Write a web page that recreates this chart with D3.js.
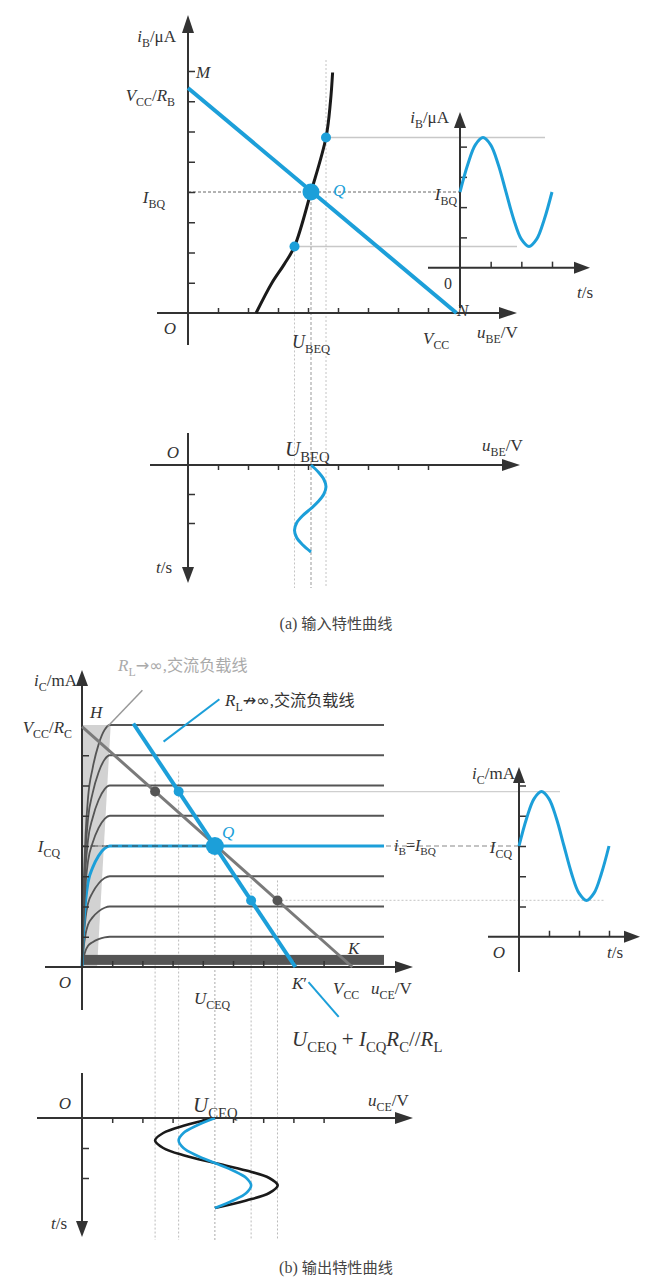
<!DOCTYPE html>
<html>
<head>
<meta charset="utf-8">
<script src="https://cdn.jsdelivr.net/npm/d3@7"></script>
<style>
html,body{margin:0;background:#fff}
text{font-family:"Liberation Serif","Times New Roman",serif}
</style>
</head>
<body>
<svg id="fig" width="651" height="1277"></svg>
<script>
// ---------- data (grid units of each diagram) ----------
// (a) input characteristic i_B = f(u_BE)
const inputU = [2.27, 2.8, 3.2, 3.55, 4.1, 4.6, 4.75, 4.82];
const inputI = [0, 1, 1.6, 2.2, 4, 5.8, 7, 7.95];
const inVcc = 8.95;      // N : load line meets the u_BE axis
const inVccRb = 7.44;    // V_CC/R_B : load line meets the i_B axis
const inTicksX = [1, 2, 3, 4, 5, 6, 7, 8];
const inTicksY = [1, 2, 3, 4, 5, 6, 7, 8];
const UBEQ = 4.1, IBQ = 4.0;

// one period of the input signal
const tSamples = [0, 0.25, 0.5, 0.75, 1, 1.25, 1.5, 1.75, 2, 2.25, 2.5, 2.75, 3];
const ibWave  = [4.0, 4.9, 5.56, 5.8, 5.56, 4.9, 4.0, 3.1, 2.44, 2.2, 2.44, 3.1, 4.0];
const ubeWave = [4.1, 4.35, 4.53, 4.6, 4.53, 4.35, 4.1, 3.82, 3.62, 3.55, 3.62, 3.82, 4.1];

// (b) output characteristic i_C = f(u_CE)
const icLevels = [1, 2, 3, 4, 5, 6, 7, 8];            // flat level of each curve
const kneeU    = [0, 0.05, 0.12, 0.2, 0.35, 0.55, 0.75, 0.92, 10];
const kneeFrac = [0, 0.3, 0.55, 0.7, 0.82, 0.92, 0.98, 1, 1];
const outVcc = 8.95, outVccRc = 7.95;
const UCEQ = 4.4, ICQ = 4.0;
const acSlope = 1.5;                                   // |di_C/du_CE| of the AC load line
const outTicksX = [1, 2, 3, 4, 5, 6, 7, 8];
const outTicksY = [1, 2, 3, 4, 5, 6, 7];
const icWave    = [4.0, 4.9, 5.56, 5.8, 5.56, 4.9, 4.0, 3.1, 2.44, 2.2, 2.44, 3.1, 4.0];
const uceWaveAC = [4.4, 3.8, 3.36, 3.2, 3.36, 3.8, 4.4, 5.0, 5.44, 5.6, 5.44, 5.0, 4.4];
const uceWaveDC = [4.4, 3.39, 2.69, 2.42, 2.69, 3.39, 4.4, 5.44, 6.2, 6.48, 6.2, 5.44, 4.4];

// ---------- style ----------
const BLUE = "#1c9fd9", INK = "#333";
const SERIF = '"Liberation Serif","Times New Roman",serif';
const CJK = '"Noto Sans CJK SC","Noto Sans",sans-serif';
const SYM = '"DejaVu Sans",sans-serif';

const svg = d3.select("#fig");
svg.append("rect").attr("width", 651).attr("height", 1277).attr("fill", "#fff");

// ---------- scales ----------
const xA  = d3.scaleLinear().domain([0, 9]).range([188, 458]);
const yA  = d3.scaleLinear().domain([0, 8]).range([313, 71]);
const tA  = d3.scaleLinear().domain([0, 3]).range([460, 552]);   // i_B(t) time axis
const tA2 = d3.scaleLinear().domain([0, 3]).range([465, 552]);   // u_BE(t) time axis (downward)
const xB  = d3.scaleLinear().domain([0, 10]).range([82, 384]);
const yB  = d3.scaleLinear().domain([0, 8]).range([967, 725]);
const tB  = d3.scaleLinear().domain([0, 3]).range([519, 609]);   // i_C(t) time axis
const tB2 = d3.scaleLinear().domain([0, 3]).range([1118, 1208]); // u_CE(t) time axis (downward)

// ---------- helpers ----------
function line(g, x1, y1, x2, y2, stroke, w, dash) {
  const l = g.append("line").attr("x1", x1).attr("y1", y1).attr("x2", x2).attr("y2", y2)
    .attr("stroke", stroke).attr("stroke-width", w);
  if (dash) l.attr("stroke-dasharray", dash);
  return l;
}
function arrowHead(g, x, y, dir, len = 16, hw = 6) {
  let pts;
  if (dir === "up")    pts = [[x, y], [x - hw, y + len], [x + hw, y + len]];
  if (dir === "down")  pts = [[x, y], [x - hw, y - len], [x + hw, y - len]];
  if (dir === "right") pts = [[x, y], [x - len, y - hw], [x - len, y + hw]];
  g.append("path").attr("d", "M" + pts.map(p => p.join(",")).join("L") + "Z").attr("fill", INK);
}
// axis arrow: line from (x1,y1) to tip (x2,y2)
function axisArrow(g, x1, y1, x2, y2, dir, len = 16, hw = 6) {
  const dx = dir === "right" ? -len + 2 : 0, dy = dir === "up" ? len - 2 : dir === "down" ? -len + 2 : 0;
  line(g, x1, y1, x2 + dx, y2 + dy, INK, 2);
  arrowHead(g, x2, y2, dir, len, hw);
}
function ticks(g, axisGen, transform) {
  const a = g.append("g").attr("transform", transform).call(axisGen.tickFormat(""));
  a.select(".domain").remove();
  a.selectAll(".tick line").attr("stroke", INK).attr("stroke-width", 1.5);
}
// rich text: parts = [[text, flags]]  flags: i italic, s subscript, c CJK, y symbol font
function rich(g, x, y, parts, o = {}) {
  const size = o.size || 17;
  const t = g.append("text").attr("x", x).attr("y", y)
    .attr("text-anchor", o.anchor || "start")
    .style("font-family", SERIF).attr("font-size", size).attr("fill", o.fill || INK);
  let shift = 0;
  parts.forEach(([str, f = ""]) => {
    const sub = f.includes("s");
    const target = sub ? size * 0.28 : 0;
    const ts = t.append("tspan").text(str).attr("font-size", sub ? size * 0.7 : size);
    if (target !== shift) { ts.attr("dy", target - shift); shift = target; }
    if (f.includes("i")) ts.style("font-style", "italic");
    if (f.includes("c")) ts.style("font-family", CJK).attr("font-size", size * 0.95);
    if (f.includes("y")) ts.style("font-family", SYM).attr("font-size", size * 0.95);
  });
  return t;
}
const zip = (a, b) => a.map((v, i) => [v, b[i]]);

// =====================================================================
// (a) input characteristic
// =====================================================================
const gA = svg.append("g");

// guide lines
const ibMax = d3.max(ibWave), ibMin = d3.min(ibWave);
const ubeMax = d3.max(ubeWave), ubeMin = d3.min(ubeWave);
line(gA, xA(ubeMax), yA(ibMax), 545, yA(ibMax), "#c8c8c8", 1.5);
line(gA, xA(ubeMin), yA(ibMin), 517, yA(ibMin), "#c8c8c8", 1.5);
line(gA, xA(0), yA(IBQ), tA(0), yA(IBQ), "#666", 1, "3,2");
line(gA, xA(ubeMax), 60, xA(ubeMax), 588, "#c4c4c4", 1, "2,2");
line(gA, xA(ubeMin), yA(ibMin), xA(ubeMin), 588, "#c4c4c4", 1, "2,2");
line(gA, xA(UBEQ), yA(IBQ), xA(UBEQ), 588, "#999", 1, "3,2");

// axes
axisArrow(gA, xA(0), 345, xA(0), 15, "up", 18, 6);
axisArrow(gA, 157, yA(0), 517, yA(0), "right", 18, 6);
ticks(gA, d3.axisTop(xA).tickValues(inTicksX).tickSize(5), `translate(0,${yA(0)})`);
ticks(gA, d3.axisRight(yA).tickValues(inTicksY).tickSize(7), `translate(${xA(0)},0)`);

// input curve
gA.append("path").datum(zip(inputU, inputI))
  .attr("d", d3.line().x(d => xA(d[0])).y(d => yA(d[1])).curve(d3.curveCatmullRom))
  .attr("fill", "none").attr("stroke", "#1a1a1a").attr("stroke-width", 3);

// load line V_CC/R_B -> N
line(gA, xA(0), yA(inVccRb), xA(inVcc), yA(0), BLUE, 4);

// operating points
gA.append("circle").attr("cx", xA(ubeMax)).attr("cy", yA(ibMax)).attr("r", 5).attr("fill", BLUE);
gA.append("circle").attr("cx", xA(ubeMin)).attr("cy", yA(ibMin)).attr("r", 5).attr("fill", BLUE);
gA.append("circle").attr("cx", xA(UBEQ)).attr("cy", yA(IBQ)).attr("r", 8.5).attr("fill", BLUE);

// i_B(t) panel
axisArrow(gA, tA(0), 308, tA(0), 112, "up", 16, 6);
axisArrow(gA, 428, yA(1.5), 590, yA(1.5), "right", 16, 6);
ticks(gA, d3.axisRight(yA).tickValues([2.5, 3.5, 4.5, 5.5]).tickSize(7), `translate(${tA(0)},0)`);
ticks(gA, d3.axisTop(tA).tickValues([1, 2, 3]).tickSize(6), `translate(0,${yA(1.5)})`);
gA.append("path").datum(zip(tSamples, ibWave))
  .attr("d", d3.line().x(d => tA(d[0])).y(d => yA(d[1])).curve(d3.curveCatmullRom))
  .attr("fill", "none").attr("stroke", BLUE).attr("stroke-width", 3);

// u_BE(t) panel
axisArrow(gA, xA(0), 433, xA(0), 583, "down", 16, 6);
axisArrow(gA, 150, tA2(0), 520, tA2(0), "right", 18, 6);
ticks(gA, d3.axisBottom(xA).tickValues(inTicksX).tickSize(5), `translate(0,${tA2(0)})`);
ticks(gA, d3.axisRight(tA2).tickValues([1, 2]).tickSize(7), `translate(${xA(0)},0)`);
gA.append("path").datum(zip(ubeWave, tSamples))
  .attr("d", d3.line().x(d => xA(d[0])).y(d => tA2(d[1])).curve(d3.curveCatmullRom))
  .attr("fill", "none").attr("stroke", BLUE).attr("stroke-width", 3);

// labels (a)
rich(gA, 176, 42, [["i", "i"], ["B", "s"], ["/μA"]], { anchor: "end" });
rich(gA, 196, 78, [["M", "i"]]);
rich(gA, 175, 101, [["V", "i"], ["CC", "s"], ["/"], ["R", "i"], ["B", "s"]], { anchor: "end" });
rich(gA, 165, 203, [["I", "i"], ["BQ", "s"]], { anchor: "end" });
rich(gA, 333, 196, [["Q", "i"]], { fill: BLUE });
rich(gA, 170, 334, [["O", "i"]], { anchor: "middle" });
rich(gA, 292, 348, [["U", "i"], ["BEQ", "s"]], { size: 18 });
rich(gA, 423, 344, [["V", "i"], ["CC", "s"]]);
rich(gA, 477, 338, [["u", "i"], ["BE", "s"], ["/V"]]);
rich(gA, 457, 316, [["N", "i"]]);
rich(gA, 449, 123, [["i", "i"], ["B", "s"], ["/μA"]], { anchor: "end" });
rich(gA, 457, 200, [["I", "i"], ["BQ", "s"]], { anchor: "end" });
rich(gA, 448, 289, [["0"]], { anchor: "middle", size: 16 });
rich(gA, 577, 298, [["t", "i"], ["/s"]]);
rich(gA, 173, 458, [["O", "i"]], { anchor: "middle" });
rich(gA, 285, 456, [["U", "i"], ["BEQ", "s"]], { size: 21 });
rich(gA, 482, 451, [["u", "i"], ["BE", "s"], ["/V"]]);
rich(gA, 172, 573, [["t", "i"], ["/s"]], { anchor: "end" });
rich(gA, 336, 629, [["(a) "], ["输入特性曲线", "c"]], { anchor: "middle", fill: "#444", size: 16 });

// =====================================================================
// (b) output characteristic
// =====================================================================
const gB = svg.append("g");
const icMax = d3.max(icWave), icMin = d3.min(icWave);
const dcU = i => outVcc * (1 - i / outVccRc);
const acU = i => UCEQ - (i - ICQ) / acSlope;

// saturation region shading
gB.append("path").datum([[0, 0], [0.5, 0], [0.95, 8], [0, 8]])
  .attr("d", d3.line().x(d => xB(d[0])).y(d => yB(d[1])))
  .attr("fill", "#d2d2d2");

// guide lines
line(gB, xB(acU(icMax)), yB(icMax), 560, yB(icMax), "#cfcfcf", 1.2);
line(gB, xB(dcU(icMin)), yB(icMin), 605, yB(icMin), "#cfcfcf", 1.2, "2,2");
const vx = [dcU(icMax), acU(icMax), UCEQ, acU(icMin), dcU(icMin)];
vx.forEach((u, k) => {
  const top = k === 2 ? yB(ICQ) : (k < 2 ? yB(icMax) - 20 : yB(icMin) - 20);
  line(gB, xB(u), top, xB(u), 1240, k === 2 ? "#aaa" : "#bbb", 1, "2,2");
});
line(gB, xB(0), yB(ICQ), tB(0), yB(ICQ), "#888", 1.1, "5,3");

// cut-off band (i_B = 0)
gB.append("rect").attr("x", xB(0)).attr("width", xB(10) - xB(0))
  .attr("y", yB(0.4)).attr("height", yB(0.07) - yB(0.4)).attr("fill", "#555");

// family of output curves
const curve = d3.line().x(d => xB(d[0])).y(d => yB(d[1])).curve(d3.curveMonotoneX);
icLevels.forEach(lv => {
  gB.append("path").datum(kneeU.map((u, i) => [u, kneeFrac[i] * lv]))
    .attr("d", curve).attr("fill", "none")
    .attr("stroke", lv === ICQ ? BLUE : "#555")
    .attr("stroke-width", lv === ICQ ? 3 : 1.8);
});
// dashes of I_CQ over the blue curve up to Q
line(gB, xB(0), yB(ICQ), xB(UCEQ), yB(ICQ), "#444", 1.1, "6,4");

// axes
axisArrow(gB, xB(0), 1010, xB(0), 670, "up", 16, 6);
axisArrow(gB, 45, yB(0), 413, yB(0), "right", 18, 6);
ticks(gB, d3.axisTop(xB).tickValues(outTicksX).tickSize(6), `translate(0,${yB(0)})`);
ticks(gB, d3.axisRight(yB).tickValues(outTicksY).tickSize(7), `translate(${xB(0)},0)`);

// DC load line (R_L -> inf)
line(gB, xB(0), yB(outVccRc), xB(outVcc), yB(0), "#7a7a7a", 3);
// AC load line
line(gB, xB(acU(8.05)), yB(8.05), xB(acU(0)), yB(0), BLUE, 4);

// points
gB.append("circle").attr("cx", xB(dcU(icMax))).attr("cy", yB(icMax)).attr("r", 5).attr("fill", "#555");
gB.append("circle").attr("cx", xB(dcU(icMin))).attr("cy", yB(icMin)).attr("r", 5).attr("fill", "#555");
gB.append("circle").attr("cx", xB(acU(icMax))).attr("cy", yB(icMax)).attr("r", 5).attr("fill", BLUE);
gB.append("circle").attr("cx", xB(acU(icMin))).attr("cy", yB(icMin)).attr("r", 5).attr("fill", BLUE);
gB.append("circle").attr("cx", xB(UCEQ)).attr("cy", yB(ICQ)).attr("r", 9).attr("fill", BLUE);

// leaders
line(gB, xB(0.85), yB(7.95), xB(2.0), yB(9.15), "#999", 1.5);
line(gB, xB(2.7), yB(7.45), xB(4.55), yB(8.85), BLUE, 2);
line(gB, xB(7.5), yB(-0.5), xB(8.5), yB(-1.65), BLUE, 2);

// i_C(t) panel
axisArrow(gB, tB(0), 972, tB(0), 767, "up", 16, 6);
axisArrow(gB, 488, yB(1), 640, yB(1), "right", 16, 6);
ticks(gB, d3.axisRight(yB).tickValues([2, 3, 4, 5, 6]).tickSize(7), `translate(${tB(0)},0)`);
ticks(gB, d3.axisTop(tB).tickValues([1, 2, 3]).tickSize(6), `translate(0,${yB(1)})`);
gB.append("path").datum(zip(tSamples, icWave))
  .attr("d", d3.line().x(d => tB(d[0])).y(d => yB(d[1])).curve(d3.curveCatmullRom))
  .attr("fill", "none").attr("stroke", BLUE).attr("stroke-width", 3);

// u_CE(t) panel
axisArrow(gB, xB(0), 1073, xB(0), 1237, "down", 16, 6);
axisArrow(gB, 37, tB2(0), 413, tB2(0), "right", 18, 6);
ticks(gB, d3.axisBottom(xB).tickValues(outTicksX).tickSize(5), `translate(0,${tB2(0)})`);
ticks(gB, d3.axisRight(tB2).tickValues([1, 2]).tickSize(7), `translate(${xB(0)},0)`);
const waveLine = d3.line().x(d => xB(d[0])).y(d => tB2(d[1])).curve(d3.curveCatmullRom);
gB.append("path").datum(zip(uceWaveDC, tSamples)).attr("d", waveLine)
  .attr("fill", "none").attr("stroke", "#1a1a1a").attr("stroke-width", 2.6);
gB.append("path").datum(zip(uceWaveAC, tSamples)).attr("d", waveLine)
  .attr("fill", "none").attr("stroke", BLUE).attr("stroke-width", 2.6);

// labels (b)
rich(gB, 118, 671, [["R", "i"], ["L", "s"], ["→", "y"], ["∞", "y"], [","], ["交流负载线", "c"]], { fill: "#aaa", size: 17 });
rich(gB, 77, 686, [["i", "i"], ["C", "s"], ["/mA"]], { anchor: "end" });
rich(gB, 225, 706, [["R", "i"], ["L", "s"], ["↛", "y"], ["∞", "y"], [","], ["交流负载线", "c"]], { size: 17 });
rich(gB, 90, 718, [["H", "i"]]);
rich(gB, 72, 733, [["V", "i"], ["CC", "s"], ["/"], ["R", "i"], ["C", "s"]], { anchor: "end" });
rich(gB, 60, 852, [["I", "i"], ["CQ", "s"]], { anchor: "end" });
rich(gB, 222, 838, [["Q", "i"]], { fill: BLUE });
rich(gB, 394, 851, [["i", "i"], ["B", "s"], ["="], ["I", "i"], ["BQ", "s"]], { size: 16 });
rich(gB, 348, 954, [["K", "i"]]);
rich(gB, 65, 988, [["O", "i"]], { anchor: "middle" });
rich(gB, 194, 1004, [["U", "i"], ["CEQ", "s"]]);
rich(gB, 292, 989, [["K", "i"], ["′"]]);
rich(gB, 333, 994, [["V", "i"], ["CC", "s"]]);
rich(gB, 371, 994, [["u", "i"], ["CE", "s"], ["/V"]]);
rich(gB, 292, 1046, [["U", "i"], ["CEQ", "s"], [" + "], ["I", "i"], ["CQ", "s"], ["R", "i"], ["C", "s"], ["//"], ["R", "i"], ["L", "s"]], { size: 21 });
rich(gB, 515, 779, [["i", "i"], ["C", "s"], ["/mA"]], { anchor: "end" });
rich(gB, 512, 853, [["I", "i"], ["CQ", "s"]], { anchor: "end" });
rich(gB, 499, 958, [["O", "i"]], { anchor: "middle" });
rich(gB, 607, 958, [["t", "i"], ["/s"]]);
rich(gB, 65, 1109, [["O", "i"]], { anchor: "middle" });
rich(gB, 193, 1112, [["U", "i"], ["CEQ", "s"]], { size: 21 });
rich(gB, 368, 1106, [["u", "i"], ["CE", "s"], ["/V"]]);
rich(gB, 67, 1229, [["t", "i"], ["/s"]], { anchor: "end" });
rich(gB, 336, 1273, [["(b) "], ["输出特性曲线", "c"]], { anchor: "middle", fill: "#444", size: 16 });
</script>
</body>
</html>
